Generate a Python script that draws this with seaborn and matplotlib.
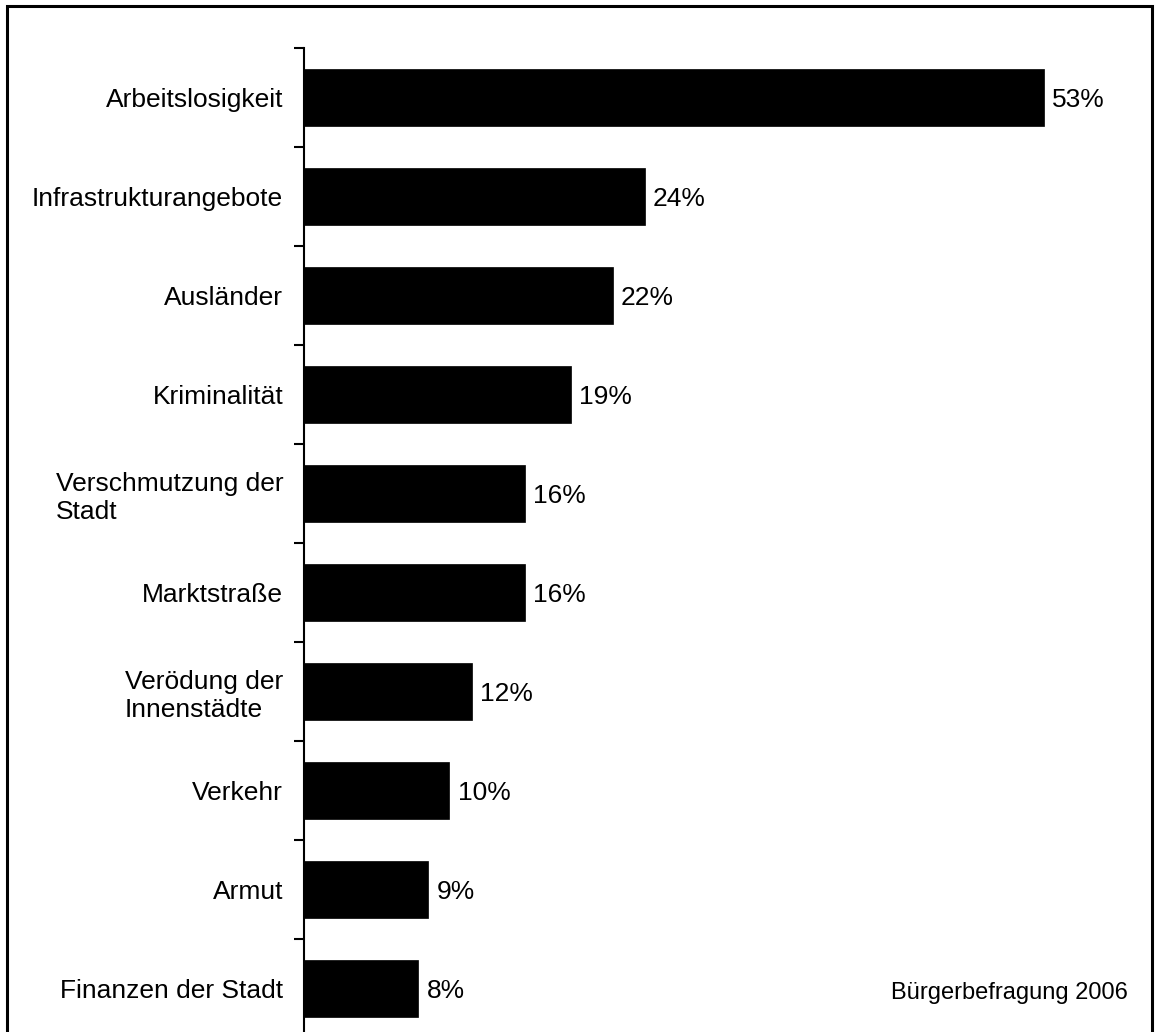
import matplotlib
matplotlib.use("Agg")
import matplotlib.pyplot as plt
import seaborn as sns
import pandas as pd
from matplotlib.patches import Rectangle

categories = ["Arbeitslosigkeit", "Infrastrukturangebote", "Ausländer", "Kriminalität",
              "Verschmutzung der\nStadt", "Marktstraße", "Verödung der\nInnenstädte",
              "Verkehr", "Armut", "Finanzen der Stadt"]
values = [53.0, 24.4, 22.1, 19.1, 15.8, 15.8, 12.0, 10.4, 8.9, 8.2]
source_note = "Bürgerbefragung 2006"

sns.set_style("white")
plt.rcParams['font.family'] = ['Liberation Sans', 'DejaVu Sans']
plt.rcParams['text.color'] = 'black'
plt.rcParams['ytick.color'] = 'black'
plt.rcParams['ytick.labelcolor'] = 'black'

df = pd.DataFrame({"cat": categories, "val": values})

fig = plt.figure(figsize=(11.55, 10.32), dpi=100)
ax = fig.add_axes([304/1155, -6/1032, 0.7252, 990/1032])

sns.barplot(data=df, x="val", y="cat", orient="h", color="black", width=0.57,
            saturation=1, edgecolor="black", linewidth=0.5, ax=ax)

ax.set_xlim(0, 60)
ax.set_ylim(len(categories) - 0.5, -0.5)
ax.set_xlabel("")
ax.set_ylabel("")
ax.set_xticks([])

for s in ["top", "right", "bottom"]:
    ax.spines[s].set_visible(False)
ax.spines["left"].set_color("black")
ax.spines["left"].set_linewidth(1.5)

ax.set_yticks(range(len(categories)))
ax.set_yticklabels(categories, fontsize=19, color="black")
ax.tick_params(axis="y", which="major", length=0, pad=15, left=True)
for lab in ax.get_yticklabels():
    lab.set_multialignment("left")
ax.set_yticks([i - 0.5 for i in range(len(categories) + 1)], minor=True)
ax.tick_params(axis="y", which="minor", left=True, length=7, width=1.5,
               color="black", direction="out")

texts = ax.bar_label(ax.containers[0], labels=[f"{v:.0f}%" for v in values],
                     padding=6, fontsize=19, color="black")
for t in texts:
    t.set_va("center_baseline")

fig.text(1128/1155, 1 - 993/1032, source_note, ha="right", va="center",
         fontsize=17, color="black")

fig.patches.append(Rectangle((7/1155, -0.05), 1145/1155, 1 - 6/1032 + 0.05,
                             transform=fig.transFigure, fill=False,
                             edgecolor="black", linewidth=2.2))

fig.savefig("out.png", dpi=100)
